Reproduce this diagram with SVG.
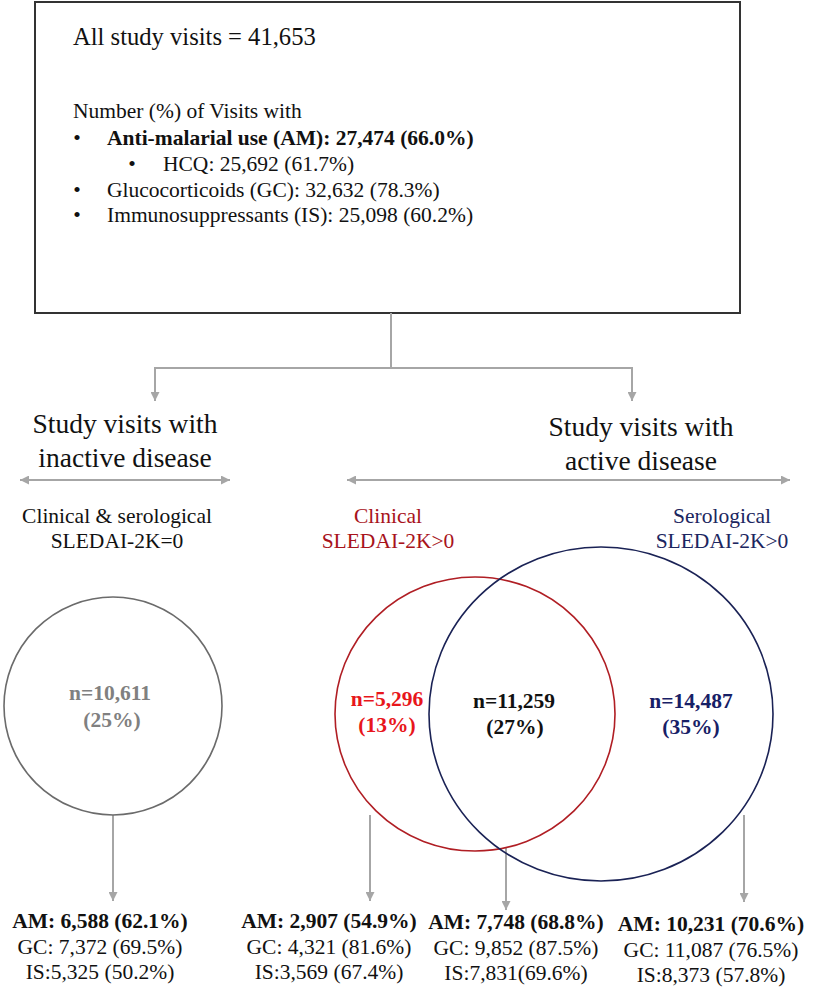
<svg xmlns="http://www.w3.org/2000/svg" width="813" height="997" viewBox="0 0 813 997">
<style>
text{font-family:"Liberation Serif","Times New Roman",serif;fill:#111}
.t{font-size:21.5px}
.b{font-weight:bold}
.h{font-size:27.5px;text-anchor:middle}
.c{text-anchor:middle}
.con{fill:none;stroke:#a6a6a6;stroke-width:2}
</style>
<defs>
<marker id="ah" viewBox="0 0 10 10" refX="10" refY="5" markerWidth="10" markerHeight="9" markerUnits="userSpaceOnUse" orient="auto-start-reverse"><path d="M0,0 L10,5 L0,10 z" fill="#a6a6a6"/></marker>
</defs>
<rect width="813" height="997" fill="#fff"/>

<g id="summary">
<rect x="35" y="2" width="705" height="311" fill="#fff" stroke="#333" stroke-width="2"/>
<text x="73" y="45" style="font-size:24.6px">All study visits = 41,653</text>
<text class="t" x="73" y="118">Number (%) of Visits with</text>
<text class="t c" x="77" y="145">•</text>
<text class="t b" x="107" y="145">Anti-malarial use (AM): 27,474 (66.0%)</text>
<text class="t c" x="132" y="171">•</text>
<text class="t" x="163" y="171">HCQ: 25,692 (61.7%)</text>
<text class="t c" x="77" y="197">•</text>
<text class="t" x="107" y="197">Glucocorticoids (GC): 32,632 (78.3%)</text>
<text class="t c" x="77" y="222">•</text>
<text class="t" x="107" y="222">Immunosuppressants (IS): 25,098 (60.2%)</text>
</g>

<g id="connectors">
<path class="con" d="M391,313 V368"/>
<path class="con" d="M391,368 H155 V401" marker-end="url(#ah)"/>
<path class="con" d="M391,368 H632 V401" marker-end="url(#ah)"/>
<line class="con" x1="20" y1="480" x2="230" y2="480" marker-start="url(#ah)" marker-end="url(#ah)"/>
<line class="con" x1="347" y1="480" x2="790" y2="480" marker-start="url(#ah)" marker-end="url(#ah)"/>
<line class="con" x1="113" y1="815" x2="113" y2="901" marker-end="url(#ah)"/>
<line class="con" x1="370" y1="815" x2="370" y2="901" marker-end="url(#ah)"/>
<line class="con" x1="506" y1="848" x2="506" y2="910" marker-end="url(#ah)"/>
<line class="con" x1="744" y1="815" x2="744" y2="902" marker-end="url(#ah)"/>
</g>

<g id="inactive-heading">
<text class="h" x="125" y="433">Study visits with</text>
<text class="h" x="125" y="467">inactive disease</text>
</g>
<g id="active-heading">
<text class="h" x="641" y="436">Study visits with</text>
<text class="h" x="641" y="470">active disease</text>
</g>

<g id="inactive-label">
<text class="t c" x="117" y="523">Clinical &amp; serological</text>
<text class="t c" x="117" y="548">SLEDAI-2K=0</text>
</g>
<g id="clinical-label">
<text class="t c" x="388" y="523" style="fill:#a8131b">Clinical</text>
<text class="t c" x="388" y="548" style="fill:#a8131b">SLEDAI-2K&gt;0</text>
</g>
<g id="serological-label">
<text class="t c" x="722" y="523" style="fill:#1c2660">Serological</text>
<text class="t c" x="722" y="548" style="fill:#1c2660">SLEDAI-2K&gt;0</text>
</g>

<g id="inactive-circle">
<circle cx="113" cy="706" r="109" fill="none" stroke="#6b6b6b" stroke-width="1.6"/>
<text class="t b c" x="110" y="700" style="fill:#808080">n=10,611</text>
<text class="t b c" x="112" y="727" style="fill:#808080">(25%)</text>
</g>
<g id="clinical-circle">
<ellipse cx="475" cy="714" rx="140" ry="137" fill="none" stroke="#b01e24" stroke-width="1.6"/>
<text class="t b c" x="387" y="706" style="fill:#e8161b">n=5,296</text>
<text class="t b c" x="387" y="732" style="fill:#e8161b">(13%)</text>
</g>
<g id="serological-circle">
<ellipse cx="601" cy="714" rx="172" ry="167" fill="none" stroke="#1a2255" stroke-width="1.6"/>
<text class="t b c" x="691" y="708" style="fill:#172066">n=14,487</text>
<text class="t b c" x="691" y="734" style="fill:#172066">(35%)</text>
</g>
<g id="overlap">
<text class="t b c" x="514" y="708">n=11,259</text>
<text class="t b c" x="515" y="734">(27%)</text>
</g>

<g id="inactive-stats">
<text class="t b c" x="100" y="928">AM: 6,588 (62.1%)</text>
<text class="t c" x="100" y="954">GC: 7,372 (69.5%)</text>
<text class="t c" x="100" y="979">IS:5,325 (50.2%)</text>
</g>
<g id="clinical-stats">
<text class="t b c" x="329" y="928">AM: 2,907 (54.9%)</text>
<text class="t c" x="329" y="954">GC: 4,321 (81.6%)</text>
<text class="t c" x="329" y="979">IS:3,569 (67.4%)</text>
</g>
<g id="overlap-stats">
<text class="t b c" x="516" y="929">AM: 7,748 (68.8%)</text>
<text class="t c" x="516" y="955">GC: 9,852 (87.5%)</text>
<text class="t c" x="516" y="980">IS:7,831(69.6%)</text>
</g>
<g id="serological-stats">
<text class="t b c" x="711" y="931">AM: 10,231 (70.6%)</text>
<text class="t c" x="711" y="957">GC: 11,087 (76.5%)</text>
<text class="t c" x="711" y="982">IS:8,373 (57.8%)</text>
</g>
</svg>
